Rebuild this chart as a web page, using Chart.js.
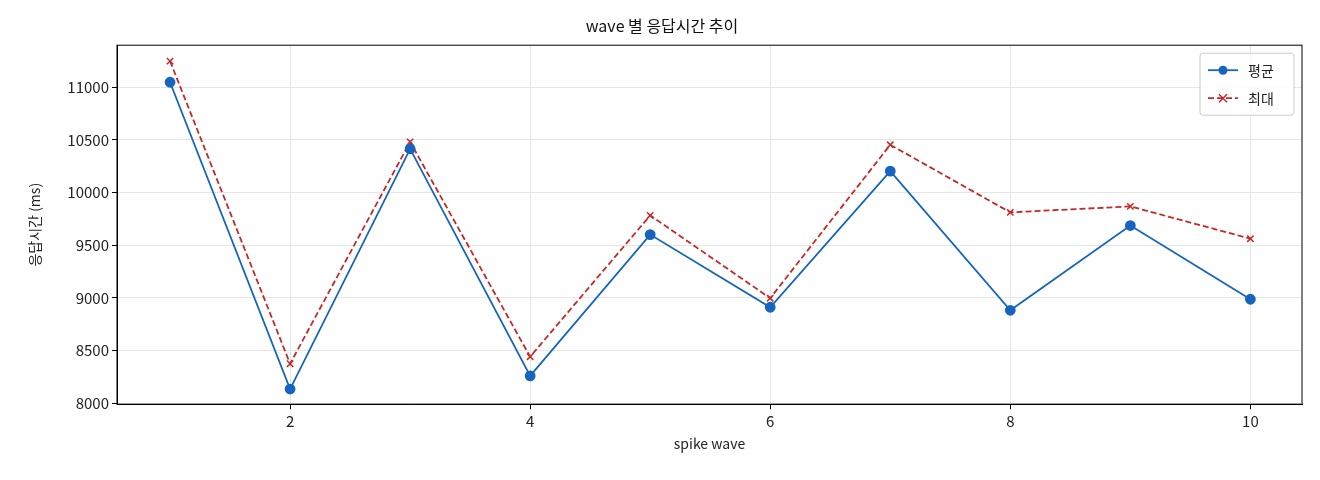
<!DOCTYPE html>
<html><head><meta charset="utf-8">
<script src="https://cdn.jsdelivr.net/npm/chart.js@4"></script>
<style>body{margin:0;background:#fff}#w{width:1320px;height:480px}</style>
</head><body><div id="w"><canvas id="c"></canvas></div>
<script>
const waves=[1,2,3,4,5,6,7,8,9,10];
const avgVals=[11048,8134,10415,8259,9601,8911,10204,8882,9687,8987];
const maxVals=[11249,8374,10482,8441,9783,8997,10454,9812,9869,9562];
const F='"Noto Sans CJK KR","DejaVu Sans",sans-serif';
Chart.defaults.font.family=F;Chart.defaults.color='#222';
const legendPlugin={id:'lg',afterDraw(ch){const c=ch.ctx,a=ch.chartArea;const x=a.right-102,y=a.top+8,w=94,h=62;
c.save();c.fillStyle='rgba(255,255,255,0.85)';c.strokeStyle='#ccc';c.lineWidth=1;c.beginPath();c.roundRect(x,y,w,h,3);c.fill();c.stroke();
ch.data.datasets.forEach((d,i)=>{const yy=y+17+i*28;c.strokeStyle=d.borderColor;c.lineWidth=1.8;c.setLineDash(d.borderDash||[]);c.beginPath();c.moveTo(x+8,yy);c.lineTo(x+38,yy);c.stroke();c.setLineDash([]);
if(i==0){c.fillStyle=d.borderColor;c.beginPath();c.arc(x+23,yy,4.5,0,7);c.fill();}else{c.lineWidth=1.5;c.beginPath();c.moveTo(x+19,yy-4);c.lineTo(x+27,yy+4);c.moveTo(x+27,yy-4);c.lineTo(x+19,yy+4);c.stroke();}
c.fillStyle='#222';c.font='14px '+F;c.textBaseline='middle';c.fillText(d.label,x+48,yy);});
c.strokeStyle='#000';c.lineWidth=1;c.strokeRect(a.left,a.top,a.right-a.left,a.bottom-a.top);c.restore();}};
new Chart(document.getElementById('c'),{type:'line',
data:{datasets:[
{label:'평균',data:waves.map((w,i)=>({x:w,y:avgVals[i]})),borderColor:'#1565c0',backgroundColor:'#1565c0',borderWidth:1.8,pointRadius:4.5,pointStyle:'circle',tension:0},
{label:'최대',data:waves.map((w,i)=>({x:w,y:maxVals[i]})),borderColor:'#c62828',backgroundColor:'#c62828',borderWidth:1.8,borderDash:[6,3],pointRadius:4.5,pointStyle:'crossRot',pointBorderWidth:1.5,tension:0}]},
options:{responsive:true,maintainAspectRatio:false,animation:false,
layout:{padding:{left:22,right:18,top:2,bottom:24}},
plugins:{legend:{display:false},tooltip:{enabled:false},
title:{display:true,text:'wave 별 응답시간 추이',font:{size:16,weight:'normal'},color:'#111',padding:{top:14,bottom:10}}},
scales:{x:{type:'linear',min:0.558,max:10.43,afterBuildTicks(s){s.ticks=[2,4,6,8,10].map(v=>({value:v}));},
grid:{color:'#e6e6e6',tickColor:'#000',tickLength:5},border:{color:'#000'},ticks:{font:{size:15},color:'#222'},
title:{display:true,text:'spike wave',font:{size:14},color:'#222',padding:{top:2}}},
y:{min:7990,max:11400,afterBuildTicks(s){s.ticks=[8000,8500,9000,9500,10000,10500,11000].map(v=>({value:v}));},
afterFit(s){s.width=95;},grid:{color:'#e6e6e6',tickColor:'#000',tickLength:5},border:{color:'#000'},
ticks:{font:{size:15},color:'#222',callback:v=>String(v)},
title:{display:true,text:'응답시간 (ms)',font:{size:14},color:'#222',padding:{bottom:2}}}}},
plugins:[legendPlugin]});
</script></body></html>
